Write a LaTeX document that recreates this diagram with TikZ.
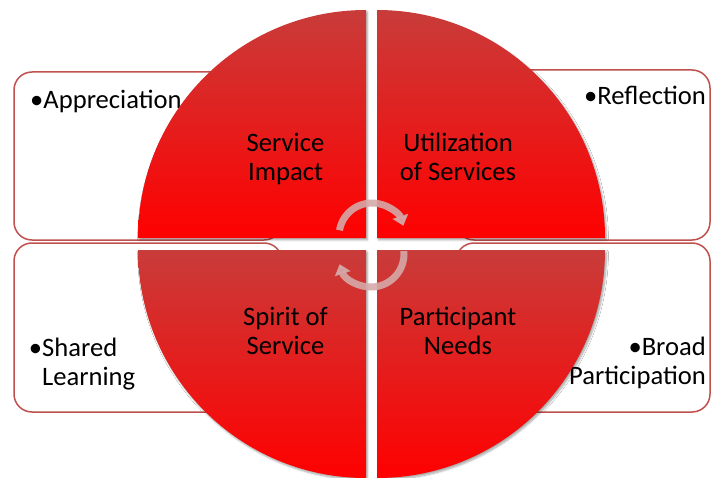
\documentclass[tikz,border=0pt]{standalone}
\usepackage{fontspec}
\setmainfont{Carlito}
\usetikzlibrary{arrows.meta,shadows.blur}
\definecolor{boxline}{RGB}{192,80,77}
\definecolor{quadtop}{RGB}{200,60,58}
\definecolor{quadbot}{RGB}{255,0,0}
\definecolor{arrowc}{RGB}{214,168,168}
\tikzset{
  sidebox/.style={draw=boxline, line width=1.5pt, rounded corners=18pt, fill=white},
  quad/.style={top color=quadtop, bottom color=quadbot, draw=none,
    blur shadow={shadow xshift=1.5pt, shadow yshift=-2pt, shadow opacity=35, shadow blur steps=6}},
  lbl/.style={inner sep=0pt, font=\fontsize{26.6}{29}\selectfont, text=black},
  cyc/.style={draw=arrowc, line width=7pt, opacity=0.9, -{Triangle[width=16pt,length=10pt]}}
}
\begin{document}
\begin{tikzpicture}[x=1pt,y=1pt]
\useasboundingbox (0,0) rectangle (711,477);
% side boxes
\draw[sidebox] (14,237) rectangle (282,405);
\draw[sidebox] (14,65) rectangle (282,234);
\draw[sidebox] (456,237) rectangle (710,407);
\draw[sidebox] (456,65) rectangle (710,234);
% box texts
\node[lbl, anchor=base west] (appr) at (30,368) {•Appreciation};
\node[lbl, anchor=base east] (refl) at (706,372) {•Reflection};
\node[lbl, anchor=base west] (shared) at (42,121) {\llap{•}Shared};
\node[lbl, anchor=base west] (learn) at (42,92) {Learning};
\node[lbl, anchor=base east] (broad) at (706,122) {•Broad};
\node[lbl, anchor=base east] (partic) at (706,93) {Participation};
% quadrants
\path[quad] (366,239) -- (138,239) arc[start angle=180, end angle=90, radius=228] -- cycle;
\path[quad] (377,239) -- (377,467) arc[start angle=90, end angle=0, radius=228] -- cycle;
\path[quad] (366,227) -- (366,-1) arc[start angle=270, end angle=180, radius=228] -- cycle;
\path[quad] (377,227) -- (605,227) arc[start angle=0, end angle=-90, radius=228] -- cycle;
% quadrant texts
\node[lbl, anchor=base] (si1) at (285.5,325) {Service};
\node[lbl, anchor=base] (si2) at (285.5,296) {Impact};
\node[lbl, anchor=base] (us1) at (458,325) {Utilization};
\node[lbl, anchor=base] (us2) at (458,296) {of Services};
\node[lbl, anchor=base] (ss1) at (285.5,152) {Spirit of};
\node[lbl, anchor=base] (ss2) at (285.5,123) {Service};
\node[lbl, anchor=base] (pn1) at (458,152) {Participant};
\node[lbl, anchor=base] (pn2) at (458,123) {Needs};
% cycle arrows
\coordinate (tc) at (372,241);
\coordinate (bc) at (371,223);
\draw[cyc] ([shift={(170:33)}]tc) arc[start angle=170, end angle=18, radius=33];
\draw[cyc] ([shift={(5:33)}]bc) arc[start angle=5, end angle=-162, radius=33];
\end{tikzpicture}
\end{document}
